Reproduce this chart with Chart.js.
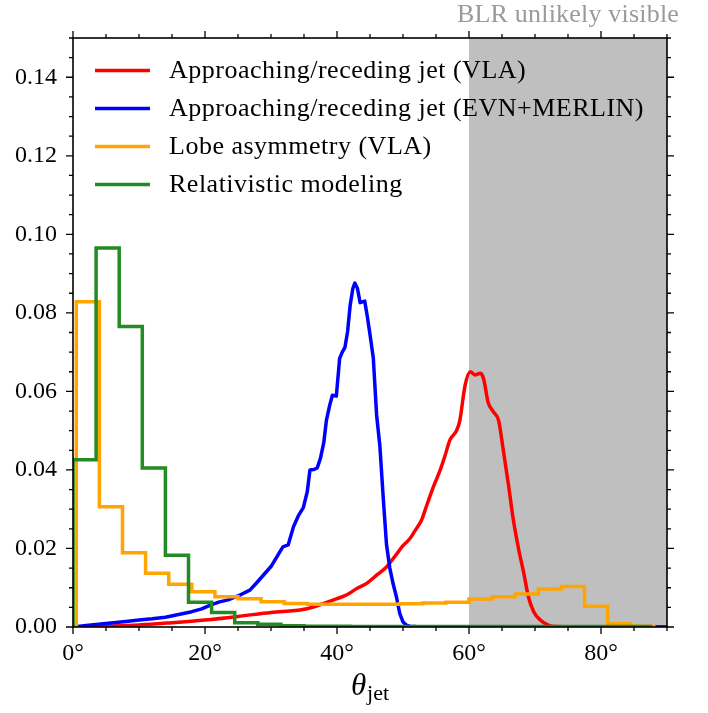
<!DOCTYPE html>
<html>
<head>
<meta charset="utf-8">
<title>theta_jet distributions</title>
<script src="https://cdn.jsdelivr.net/npm/chart.js@4.4.1/dist/chart.umd.min.js"></script>
<style>
  html, body { margin: 0; padding: 0; background: #fff; }
  #wrap { width: 708px; height: 713px; }
</style>
</head>
<body>
<div id="wrap"><canvas id="thetaChart"></canvas></div>
<script>
// ─────────────────────────────────────────────
// Data
// ─────────────────────────────────────────────
const X_TICKS = [0, 20, 40, 60, 80];
const Y_TICKS = [0, 0.02, 0.04, 0.06, 0.08, 0.10, 0.12, 0.14];
const X_RANGE = [0, 90];
const Y_RANGE = [0, 0.15];

const SERIES_LABELS = [
  "Approaching/receding jet (VLA)",
  "Approaching/receding jet (EVN+MERLIN)",
  "Lobe asymmetry (VLA)",
  "Relativistic modeling",
];

// red: approaching/receding jet (VLA)
const vlaJetX = [0, 5, 10, 15, 20, 25, 30, 35, 38, 40, 41.5, 43, 44.5, 46, 47.5, 49, 50, 51, 52,
  52.8, 53.6, 54.6, 55.6, 56.4, 57.1, 58.1, 58.6, 59.4, 60.2, 60.9, 61.7, 62.2, 62.9, 63.7, 64.5,
  65.2, 66, 66.7, 67.5, 68.3, 69, 69.8, 70.8, 72, 73, 80, 90];
const vlaJetY = [0, 0.0002, 0.0005, 0.0011, 0.0018, 0.0027, 0.0037, 0.0045, 0.0060, 0.0072, 0.0082,
  0.0098, 0.0111, 0.0132, 0.0153, 0.0185, 0.0207, 0.0224, 0.0250, 0.0272, 0.0310, 0.0357, 0.0398,
  0.0438, 0.0476, 0.0500, 0.0525, 0.0615, 0.0650, 0.0642, 0.0646, 0.0633, 0.0572, 0.0548, 0.0525,
  0.0450, 0.0360, 0.0275, 0.0200, 0.0137, 0.0077, 0.0039, 0.0018, 0.0005, 0.0001, 0, 0];

// blue: approaching/receding jet (EVN+MERLIN)
const evnJetX = [0, 2, 5, 8, 10, 12, 14, 16, 18, 19.5, 21, 22.2, 23.5, 25, 26.8, 27.8, 29, 30, 31,
  31.8, 32.6, 33.4, 34.2, 34.9, 35.5, 35.9, 36.5, 37, 37.5, 38, 38.4, 38.9, 39.3, 39.9, 40.4, 40.8,
  41.2, 41.6, 42, 42.4, 42.7, 43.1, 43.5, 44.2, 44.6, 45, 45.5, 46, 46.5, 47, 47.5, 48, 48.5, 49,
  49.5, 50, 50.5, 51, 52, 55, 70, 90];
const evnJetY = [0, 0.0004, 0.0009, 0.0014, 0.0018, 0.0021, 0.0025, 0.0032, 0.0039, 0.0046, 0.0057,
  0.0064, 0.0069, 0.0079, 0.0094, 0.0112, 0.0135, 0.0154, 0.0182, 0.0204, 0.0209, 0.0255, 0.0285,
  0.0304, 0.0345, 0.0400, 0.0401, 0.0405, 0.0430, 0.0470, 0.0527, 0.0565, 0.0590, 0.0588, 0.0684,
  0.0700, 0.0712, 0.0752, 0.0820, 0.0862, 0.0876, 0.0862, 0.0826, 0.0830, 0.0790, 0.0745, 0.0685,
  0.0540, 0.0460, 0.0330, 0.0210, 0.0150, 0.0110, 0.0077, 0.0035, 0.0013, 0.0005, 0.0002, 0.0001,
  0, 0, 0];

// orange: lobe asymmetry histogram (bin edges + heights)
const lobeEdges = [0.5, 4, 7.5, 11, 14.5, 18, 21.5, 25, 28.5, 32, 35.5, 39, 42.5, 46, 49.5, 53,
  56.5, 60, 63.5, 67, 70.5, 74, 77.5, 81, 84.5, 88];
const lobeHeights = [0.0828, 0.0306, 0.0189, 0.0137, 0.0109, 0.0090, 0.0077, 0.0072, 0.0064, 0.0060,
  0.0058, 0.0058, 0.0058, 0.0058, 0.0059, 0.0061, 0.0063, 0.0071, 0.0077, 0.0084, 0.0097, 0.0103,
  0.0053, 0.0008, 0.0002];

// green: relativistic modeling histogram
const relEdges = [0, 3.5, 7, 10.5, 14, 17.5, 21, 24.5, 28, 31.5, 35, 38.5, 42, 45.5, 49, 52.5, 56,
  59.5, 63, 66.5, 70, 73.5, 77, 80.5, 84, 87.5];
const relHeights = [0.0426, 0.0965, 0.0765, 0.0405, 0.0183, 0.0063, 0.0037, 0.0011, 0.0007, 0.0003,
  0.0002, 0.0002, 0.0001, 0.0001, 0.0001, 0.0001, 0.0001, 0.0001, 0.0001, 0.0001, 0.0001, 0.0001,
  0.0001, 0.0001, 0.0001];

// shaded region + its caption
const SHADE_FROM = 60;
const SHADE_TO = 90;
const SHADE_CAPTION = "BLR unlikely visible";

// ─────────────────────────────────────────────
// Style
// ─────────────────────────────────────────────
const SERIF = '"Liberation Serif", "DejaVu Serif", serif';
const COLORS = ["#ff0000", "#0000ff", "#ffa500", "#228b22"];
const LINE_W = 3.5;

// ─────────────────────────────────────────────
// Helpers
// ─────────────────────────────────────────────
const toPoints = (xs, ys) => xs.map((x, i) => ({ x, y: ys[i] }));

// matplotlib histtype="step" outline
function stepPoints(edges, heights) {
  const pts = [{ x: edges[0], y: 0 }];
  heights.forEach((h, i) => pts.push({ x: edges[i], y: h }));
  pts.push({ x: edges[edges.length - 1], y: 0 });
  return pts;
}

// ─────────────────────────────────────────────
// Plugins: shade, frame + ticks, legend, labels
// ─────────────────────────────────────────────
const shadePlugin = {
  id: "shade",
  beforeDatasetsDraw(chart) {
    const { ctx, chartArea: a, scales: { x } } = chart;
    const x0 = x.getPixelForValue(SHADE_FROM);
    const x1 = x.getPixelForValue(SHADE_TO);
    ctx.save();
    ctx.fillStyle = "#bfbfbf";
    ctx.fillRect(x0, a.top, x1 - x0, a.bottom - a.top);
    ctx.restore();
  },
};

const frameTicksPlugin = {
  id: "frameTicks",
  afterDatasetsDraw(chart) {
    const { ctx, chartArea: a, scales: { x, y } } = chart;
    ctx.save();
    ctx.strokeStyle = "#000";
    ctx.lineWidth = 1.3;
    ctx.beginPath();
    // x: minor every 5°, major every 20°
    for (let i = 0; i <= 18; i++) {
      const px = x.getPixelForValue(i * 5);
      const len = i % 4 === 0 ? 7 : 4;
      ctx.moveTo(px, a.bottom); ctx.lineTo(px, a.bottom + len);
      ctx.moveTo(px, a.top);    ctx.lineTo(px, a.top - len);
    }
    // y: minor every 0.005, major every 0.02
    for (let i = 0; i <= 30; i++) {
      const py = y.getPixelForValue(i * 0.005);
      const len = i % 4 === 0 ? 7 : 4;
      ctx.moveTo(a.left, py);  ctx.lineTo(a.left - len, py);
      ctx.moveTo(a.right, py); ctx.lineTo(a.right + len, py);
    }
    ctx.stroke();
    ctx.lineWidth = 1.6;
    ctx.strokeRect(a.left, a.top, a.right - a.left, a.bottom - a.top);
    ctx.restore();
  },
};

const legendTextPlugin = {
  id: "legendText",
  afterDraw(chart) {
    const { ctx, chartArea: a, scales: { x } } = chart;
    ctx.save();

    // legend (no frame)
    ctx.font = `26px ${SERIF}`;
    ctx.letterSpacing = "0.5px";
    ctx.textBaseline = "middle";
    ctx.fillStyle = "#000";
    SERIES_LABELS.forEach((label, i) => {
      const yy = 70.5 + i * 38;
      ctx.strokeStyle = COLORS[i];
      ctx.lineWidth = LINE_W;
      ctx.beginPath();
      ctx.moveTo(95, yy);
      ctx.lineTo(150, yy);
      ctx.stroke();
      ctx.fillText(label, 169, yy + 1);
    });

    // caption above the shaded band
    ctx.font = `26px ${SERIF}`;
    ctx.letterSpacing = "0.2px";
    ctx.fillStyle = "#9a9a9a";
    ctx.textAlign = "center";
    ctx.textBaseline = "alphabetic";
    ctx.fillText(SHADE_CAPTION, x.getPixelForValue((SHADE_FROM + SHADE_TO) / 2), 22);
    ctx.letterSpacing = "0px";

    // x-axis title: theta_jet
    ctx.fillStyle = "#000";
    ctx.textAlign = "left";
    ctx.font = `italic 31px ${SERIF}`;
    const wTheta = ctx.measureText("θ").width;
    ctx.font = `22px ${SERIF}`;
    const wJet = ctx.measureText("jet").width;
    const cx = (a.left + a.right) / 2;
    const startX = cx - (wTheta + wJet + 1) / 2;
    ctx.font = `italic 31px ${SERIF}`;
    ctx.fillText("θ", startX, 695);
    ctx.font = `22px ${SERIF}`;
    ctx.fillText("jet", startX + wTheta + 1, 700);

    ctx.restore();
  },
};

// ─────────────────────────────────────────────
// Chart
// ─────────────────────────────────────────────
const curveStyle = {
  borderWidth: LINE_W,
  pointRadius: 0,
  fill: false,
  clip: 0,
  borderJoinStyle: "round",
};
const stepStyle = {
  borderWidth: LINE_W,
  pointRadius: 0,
  fill: false,
  clip: 0,
  stepped: true,
  borderJoinStyle: "miter",
};

new Chart(document.getElementById("thetaChart"), {
  type: "line",
  data: {
    datasets: [
      { ...curveStyle, label: SERIES_LABELS[0], data: toPoints(vlaJetX, vlaJetY),
        borderColor: COLORS[0], cubicInterpolationMode: "monotone", order: 4 },
      { ...curveStyle, label: SERIES_LABELS[1], data: toPoints(evnJetX, evnJetY),
        borderColor: COLORS[1], tension: 0, order: 3 },
      { ...stepStyle, label: SERIES_LABELS[2], data: stepPoints(lobeEdges, lobeHeights),
        borderColor: COLORS[2], order: 2 },
      { ...stepStyle, label: SERIES_LABELS[3], data: stepPoints(relEdges, relHeights),
        borderColor: COLORS[3], order: 1 },
    ],
  },
  options: {
    responsive: true,
    maintainAspectRatio: false,
    animation: false,
    layout: { padding: { top: 38, right: 41, bottom: 0, left: 0 } },
    plugins: {
      legend: { display: false },
      tooltip: { enabled: false },
    },
    scales: {
      x: {
        type: "linear",
        min: X_RANGE[0],
        max: X_RANGE[1],
        afterBuildTicks: s => { s.ticks = X_TICKS.map(v => ({ value: v })); },
        afterFit: s => { s.height = 86; },
        grid: { display: false, drawTicks: false },
        border: { display: false },
        ticks: {
          padding: 12,
          color: "#000",
          font: { family: SERIF, size: 24 },
          maxRotation: 0,
          callback: v => `${v}°`,
        },
      },
      y: {
        min: Y_RANGE[0],
        max: Y_RANGE[1],
        afterBuildTicks: s => { s.ticks = Y_TICKS.map(v => ({ value: v })); },
        afterFit: s => { s.width = 73; },
        grid: { display: false, drawTicks: false },
        border: { display: false },
        ticks: {
          padding: 16,
          color: "#000",
          font: { family: SERIF, size: 24 },
          callback: v => v.toFixed(2),
        },
      },
    },
  },
  plugins: [shadePlugin, frameTicksPlugin, legendTextPlugin],
});
</script>
</body>
</html>
